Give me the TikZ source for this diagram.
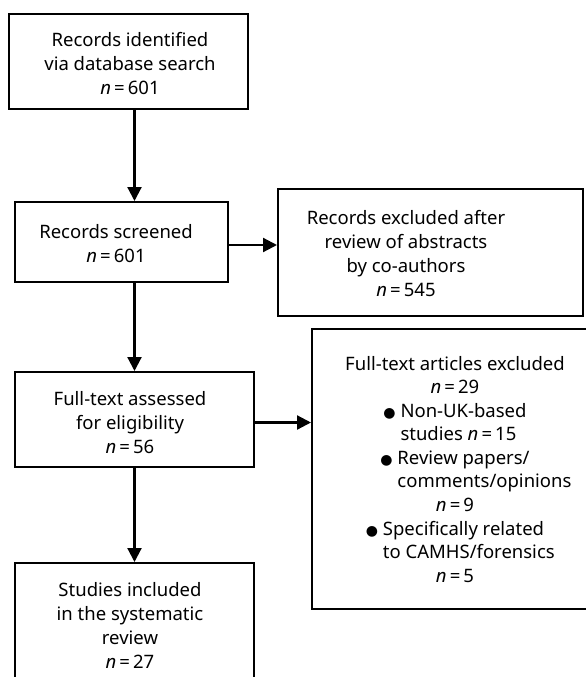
\documentclass[tikz,border=0pt]{standalone}
\usepackage{fontspec}
\setmainfont{Noto Sans}
\newfontfamily\dejavu{DejaVu Sans}
\usetikzlibrary{arrows.meta}
\newcommand\nn[1]{\textit{n}\,=\,#1}
\newcommand\blt{{\dejavu\fontsize{14}{14}\selectfont ●}}
\newlength\bulw
\begin{document}
\settowidth\bulw{\fontsize{18.5}{24}\selectfont\blt\ }%
\begin{tikzpicture}[x=1pt,y=-1pt,
  every node/.style={font=\fontsize{18.5}{24}\selectfont},
  box/.style={draw, line width=2pt, inner sep=0pt},
  txt/.style={align=center, inner sep=0pt},
  ln/.style={inner sep=0pt, anchor=base},
  cont/.style={inner sep=0pt, anchor=base west},
  arr/.style={line width=2.2pt, -{Triangle[length=14pt,width=14pt]}}]
\useasboundingbox (0,0) rectangle (586,677);
\clip (0,0) rectangle (586,677);
% boxes
\node[box, minimum width=239pt, minimum height=95pt] (b1) at (128.5,61.5) {};
\node[box, minimum width=213pt, minimum height=80pt] (b2) at (121.5,242) {};
\node[box, minimum width=239pt, minimum height=95pt] (b3) at (134.5,419.5) {};
\node[box, minimum width=239pt, minimum height=157pt] (b4) at (134.5,641.5) {};
\node[box, minimum width=305pt, minimum height=127pt] (r1) at (430.5,252.5) {};
\node[box, minimum width=308pt, minimum height=280pt] (r2) at (466,469) {};
% texts
\node[txt] (t1) at (130,64) {Records identified\\via database search\\\nn{601}};
\node[txt] (t2) at (116,244) {Records screened\\\nn{601}};
\node[txt] (t3) at (130,423) {Full-text assessed\\for eligibility\\\nn{56}};
\node[txt] (t4) at (130,625.5) {Studies included\\in the systematic\\review\\\nn{27}};
\node[txt] (tr1) at (406,254) {Records excluded after\\review of abstracts\\by co-authors\\\nn{545}};
% excluded list
\node[ln] (l1) at (455,370) {Full-text articles excluded};
\node[ln] (l2) at (455,393) {\nn{29}};
\node[ln] (l3) at (455,417) {\blt\ Non-UK-based};
\node[cont] (l4) at ([xshift=\bulw,yshift=-23.5pt]l3.base west) {studies \nn{15}};
\node[ln] (l5) at (455,464) {\blt\ Review papers/};
\node[cont] (l6) at ([xshift=\bulw,yshift=-23.5pt]l5.base west) {comments/opinions};
\node[ln] (l7) at (455,511) {\nn{9}};
\node[ln] (l8) at (455,535) {\blt\ Specifically related};
\node[cont] (l9) at ([xshift=\bulw,yshift=-23.5pt]l8.base west) {to CAMHS/forensics};
\node[ln] (l10) at (455,582) {\nn{5}};
% connectors
\draw[arr] (b1.south -| b3.center) -- (b2.north -| b3.center);
\draw[arr] (b2.south -| b3.center) -- (b3.north);
\draw[arr] (b3.south) -- (b4.north);
\draw[arr] ([yshift=-3pt]b2.east) -- ([yshift=-3pt]b2.east -| r1.west);
\draw[arr] ([yshift=-3pt]b3.east) -- ([yshift=-3pt]b3.east -| r2.west);
\end{tikzpicture}
\end{document}
